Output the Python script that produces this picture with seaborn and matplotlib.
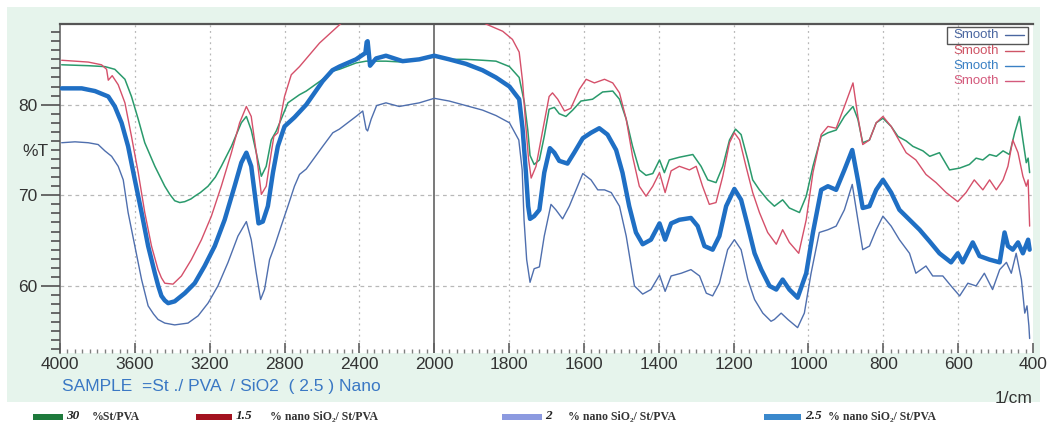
import numpy as np
import matplotlib
matplotlib.use("Agg")
import matplotlib.pyplot as plt
from matplotlib.lines import Line2D
from matplotlib.patches import Rectangle
from matplotlib.ticker import FixedLocator
import seaborn as sns

# ---- FTIR spectra: wavenumber (1/cm) and transmittance (%T) ----
wn_st_pva = [3991, 3849, 3760, 3707, 3653, 3618, 3582, 3547, 3493, 3440, 3413, 3387, 3360, 3333, 3300,
             3280, 3250, 3209, 3170, 3138, 3084, 3031, 3004, 2978, 2951, 2924, 2898, 2871, 2844, 2782,
             2720, 2684, 2596, 2544, 2507, 2418, 2364, 2347, 2258, 2169, 2080, 2000, 1960, 1915, 1871,
             1835, 1799, 1773, 1759, 1750, 1744, 1733, 1719, 1706, 1693, 1679, 1666, 1648, 1630, 1608,
             1577, 1550, 1523, 1505, 1487, 1470, 1452, 1434, 1416, 1398, 1385, 1372, 1345, 1309, 1287,
             1269, 1247, 1229, 1211, 1195, 1180, 1162, 1149, 1131, 1109, 1091, 1069, 1051, 1024, 1006,
             988, 966, 948, 926, 904, 881, 868, 855, 837, 819, 801, 779, 761, 739, 721,
             694, 676, 650, 623, 596, 570, 552, 534, 516, 498, 480, 463, 449, 436, 427,
             418, 413, 409]
t_st_pva = [84.4, 84.3, 84.2, 83.9, 82.8, 80.9, 78.4, 75.8, 73.2, 71.0, 70.1, 69.4, 69.2, 69.3, 69.6,
            69.9, 70.3, 71.0, 72.0, 73.2, 75.4, 78.0, 78.7, 77.2, 74.7, 72.1, 73.2, 76.1, 77.1, 80.2,
            81.1, 81.5, 82.8, 83.7, 83.9, 84.6, 84.8, 84.8, 84.8, 84.7, 85.0, 85.3, 85.0, 85.0, 84.9,
            84.8, 84.2, 83.0, 80.2, 77.2, 74.4, 73.4, 73.9, 76.5, 79.5, 79.7, 79.0, 78.7, 79.4, 80.4,
            80.6, 81.4, 81.5, 80.6, 78.4, 75.4, 72.8, 72.2, 72.4, 73.9, 72.5, 73.9, 74.2, 74.5, 73.2,
            71.7, 71.4, 73.2, 76.1, 77.3, 76.7, 73.9, 71.7, 70.6, 69.5, 68.8, 69.5, 68.6, 68.1, 69.9,
            73.2, 76.5, 76.9, 77.2, 78.7, 79.8, 78.4, 75.8, 76.1, 78.0, 78.5, 77.6, 76.5, 76.0, 75.4,
            74.9, 74.3, 74.7, 72.8, 73.0, 73.4, 74.1, 73.9, 74.5, 74.3, 74.9, 74.5, 76.9, 78.7, 76.1,
            73.6, 74.1, 72.5]

wn_sio2_15 = [3991, 3849, 3778, 3751, 3742, 3721, 3689, 3653, 3618, 3582, 3547, 3511, 3476, 3458, 3440,
              3396, 3351, 3298, 3244, 3191, 3138, 3084, 3040, 3004, 2978, 2951, 2924, 2898, 2871, 2857,
              2836, 2800, 2764, 2720, 2613, 2507, 2450, 2350, 2200, 2000, 1900, 1862, 1817, 1791, 1773,
              1764, 1755, 1748, 1741, 1728, 1710, 1693, 1684, 1670, 1652, 1635, 1612, 1594, 1572, 1545,
              1523, 1505, 1487, 1470, 1452, 1434, 1416, 1398, 1383, 1367, 1345, 1318, 1300, 1283, 1265,
              1247, 1229, 1211, 1198, 1184, 1167, 1149, 1131, 1109, 1086, 1069, 1051, 1026, 1006, 988,
              966, 948, 926, 904, 881, 868, 855, 837, 819, 801, 779, 757, 739, 713, 686,
              659, 632, 601, 579, 557, 534, 516, 498, 480, 467, 454, 440, 427, 418, 413,
              409]
t_sio2_15 = [84.9, 84.7, 84.4, 83.9, 82.7, 83.2, 82.2, 80.2, 76.5, 72.5, 68.1, 64.4, 61.8, 60.9, 60.3,
             60.2, 61.1, 62.9, 65.1, 67.7, 71.0, 74.7, 78.0, 79.8, 78.7, 74.7, 70.1, 71.0, 74.7, 76.5,
             76.9, 80.9, 83.3, 84.2, 86.8, 88.8, 89.8, 90.6, 91.0, 91.0, 89.8, 88.9, 88.1, 87.2, 85.8,
             82.6, 77.5, 74.0, 71.9, 73.2, 77.2, 80.9, 81.3, 80.6, 79.3, 79.6, 81.7, 82.8, 82.4, 82.8,
             82.4, 81.3, 78.4, 74.3, 71.0, 69.9, 71.0, 72.5, 70.3, 72.7, 73.2, 72.8, 73.2, 71.0, 69.0,
             69.2, 72.1, 75.8, 76.9, 76.1, 73.2, 70.3, 68.1, 65.9, 64.6, 66.2, 64.8, 63.6, 67.3, 72.5,
             76.7, 77.6, 77.4, 79.8, 82.4, 78.7, 75.6, 76.1, 78.0, 78.7, 77.6, 76.0, 74.7, 73.9, 72.3,
             71.4, 70.3, 69.3, 70.3, 71.7, 70.6, 71.7, 70.6, 71.7, 73.2, 76.1, 74.7, 72.1, 71.0, 71.7,
             66.6]

wn_sio2_2 = [3991, 3920, 3849, 3796, 3760, 3724, 3689, 3662, 3636, 3600, 3564, 3529, 3500, 3476, 3440,
             3387, 3316, 3262, 3209, 3156, 3102, 3049, 3004, 2978, 2951, 2928, 2907, 2880, 2853, 2818,
             2782, 2747, 2720, 2684, 2596, 2542, 2507, 2418, 2382, 2364, 2356, 2337, 2308, 2258, 2187,
             2080, 2000, 1960, 1915, 1871, 1835, 1799, 1774, 1765, 1760, 1753, 1744, 1733, 1719, 1706,
             1688, 1675, 1657, 1639, 1621, 1603, 1581, 1563, 1545, 1527, 1505, 1487, 1465, 1443, 1421,
             1398, 1383, 1367, 1340, 1314, 1291, 1273, 1256, 1238, 1216, 1198, 1180, 1162, 1144, 1122,
             1100, 1091, 1073, 1055, 1029, 1011, 993, 971, 948, 926, 904, 883, 868, 855, 837,
             819, 801, 779, 757, 730, 713, 686, 668, 641, 619, 596, 574, 552, 530, 508,
             489, 471, 458, 445, 431, 422, 416, 411, 409]
t_sio2_2 = [75.8, 75.9, 75.8, 75.6, 74.9, 74.3, 73.2, 71.7, 68.1, 64.4, 60.7, 57.8, 56.9, 56.3, 55.9,
            55.7, 55.9, 56.7, 58.1, 60.0, 62.6, 65.5, 67.1, 65.1, 61.4, 58.5, 59.6, 62.9, 64.4, 66.6,
            68.8, 71.0, 72.3, 72.9, 75.4, 76.9, 77.3, 78.7, 79.3, 77.3, 77.1, 78.4, 79.9, 80.2, 79.8,
            80.2, 80.7, 80.4, 79.9, 79.4, 78.8, 78.0, 76.1, 72.8, 67.3, 62.9, 60.4, 61.9, 62.1, 65.5,
            69.0, 68.4, 67.4, 68.8, 70.6, 72.4, 71.7, 70.6, 70.6, 70.3, 68.8, 65.5, 60.0, 59.1, 59.6,
            61.2, 59.4, 61.1, 61.4, 61.8, 61.1, 59.2, 58.9, 60.3, 64.0, 65.1, 64.0, 60.7, 58.5, 57.0,
            56.1, 56.3, 57.0, 56.3, 55.4, 57.0, 61.4, 65.9, 66.2, 66.6, 68.4, 71.2, 67.3, 64.0, 64.4,
            66.2, 67.7, 66.6, 65.1, 63.6, 61.4, 62.2, 61.1, 61.1, 60.0, 58.9, 60.3, 60.0, 61.4, 59.6,
            61.8, 62.6, 61.4, 63.6, 60.7, 57.0, 57.8, 55.6, 54.2]

wn_sio2_25 = [3991, 3884, 3813, 3742, 3707, 3671, 3636, 3600, 3564, 3529, 3493, 3475, 3458, 3440, 3422,
              3387, 3333, 3280, 3227, 3173, 3120, 3067, 3031, 3004, 2978, 2960, 2939, 2916, 2889, 2862,
              2836, 2800, 2747, 2702, 2684, 2596, 2544, 2507, 2418, 2382, 2368, 2361, 2356, 2352, 2343,
              2311, 2258, 2169, 2080, 2000, 1960, 1915, 1871, 1835, 1799, 1773, 1764, 1755, 1749, 1744,
              1733, 1719, 1706, 1691, 1679, 1666, 1644, 1626, 1603, 1581, 1559, 1537, 1514, 1497, 1479,
              1461, 1443, 1421, 1398, 1383, 1367, 1345, 1314, 1296, 1278, 1256, 1238, 1220, 1198, 1180,
              1162, 1144, 1126, 1104, 1086, 1069, 1051, 1029, 1006, 988, 966, 948, 926, 904, 883,
              868, 855, 837, 819, 801, 779, 757, 730, 703, 676, 650, 619, 601, 588, 561,
              543, 516, 489, 476, 467, 454, 440, 427, 413, 409]
t_sio2_25 = [81.8, 81.8, 81.5, 80.9, 79.8, 78.0, 75.4, 71.7, 68.1, 64.4, 61.4, 60.0, 58.9, 58.4, 58.1,
             58.3, 59.2, 60.3, 62.2, 64.4, 67.3, 71.0, 73.6, 74.7, 73.2, 70.3, 66.9, 67.1, 68.8, 72.5,
             75.4, 77.6, 78.6, 79.6, 80.0, 82.6, 83.8, 84.2, 85.0, 85.5, 85.7, 86.9, 87.0, 86.2, 84.3,
             85.1, 85.4, 84.8, 85.0, 85.4, 85.0, 84.5, 83.8, 83.0, 82.0, 80.6, 77.4, 72.5, 68.8, 67.4,
             67.7, 68.4, 72.5, 75.2, 74.7, 73.8, 73.5, 74.7, 76.3, 76.9, 77.4, 76.7, 75.0, 72.5, 68.8,
             65.9, 64.6, 65.1, 66.9, 65.1, 66.9, 67.3, 67.5, 66.6, 64.4, 64.0, 65.5, 68.8, 70.7, 69.5,
             66.6, 63.6, 61.8, 60.0, 59.6, 60.7, 59.6, 58.7, 61.4, 65.9, 70.6, 71.0, 70.6, 72.8, 75.0,
             71.7, 68.6, 68.8, 70.6, 71.7, 70.3, 68.4, 67.3, 66.2, 64.9, 63.6, 62.6, 63.6, 62.6, 64.8,
             63.3, 62.9, 62.6, 65.9, 64.4, 64.0, 64.8, 63.6, 65.1, 64.0]

x_ticks = [4000, 3600, 3200, 2800, 2400, 2000, 1800, 1600, 1400, 1200, 1000, 800, 600, 400]
y_ticks = [60, 70, 80]

legend_numbers = ["30", "1.5", "2", "2.5"]
legend_texts = ["%St/PVA", "% nano SiO\u2082/ St/PVA", "% nano SiO\u2082/ St/PVA", "% nano SiO\u2082/ St/PVA"]
smooth_labels = ["Smooth", "Smooth", "Smooth", "Smooth"]

# ---- styling ----
sns.set_style("ticks")
plt.rcParams["font.family"] = ["Liberation Sans", "DejaVu Sans"]

W, H = 1048, 436
fig = plt.figure(figsize=(W / 100, H / 100), dpi=100)
fig.patch.set_facecolor("white")


def fx(px):
    return px / W


def fy(py):
    return 1 - py / H


# pale panel behind the plot area
fig.patches.append(Rectangle((fx(7), fy(402)), (1040 - 7) / W, (402 - 7) / H,
                             transform=fig.transFigure, facecolor="#e6f4ec",
                             edgecolor="none", zorder=-5, figure=fig))

ax = fig.add_axes([fx(60), fy(353), (1033 - 60) / W, (353 - 24) / H])
ax.set_facecolor("white")
ax.set_axisbelow(False)


# wavenumber axis: 2x expanded below 2000 1/cm
def fwd(x):
    x = np.asarray(x, dtype=float)
    return np.where(x >= 2000, x, 2 * x - 2000)


def inv(u):
    u = np.asarray(u, dtype=float)
    return np.where(u >= 2000, u, (u + 2000) / 2)


series = [
    (wn_sio2_2, t_sio2_2, "#4f6fae", 1.0),
    (wn_st_pva, t_st_pva, "#2a9a6c", 1.1),
    (wn_sio2_15, t_sio2_15, "#d5506a", 1.0),
    (wn_sio2_25, t_sio2_25, "#1f6fc4", 3.2),
]
for wn, t, col, lw in series:
    sns.lineplot(x=wn, y=t, ax=ax, color=col, linewidth=lw, sort=False,
                 estimator=None, zorder=3, solid_joinstyle="round",
                 solid_capstyle="round")

ax.set_xscale("function", functions=(fwd, inv))
ax.set_xlim(4000, 400)
ax.set_ylim(52.6, 88.9)

# grid
for v in x_ticks[1:-1]:
    if v == 2000:
        ax.axvline(v, color="#6e6e6e", lw=1.3, zorder=2)
    else:
        ax.axvline(v, color="#b8b8b8", lw=0.9, ls=(0, (1.5, 3)), zorder=1)
for v in y_ticks:
    ax.axhline(v, color="#b8b8b8", lw=0.9, ls=(0, (3, 3)), zorder=1)

ax.xaxis.set_major_locator(FixedLocator(x_ticks))
ax.set_xticklabels([str(v) for v in x_ticks])
minor_x = list(range(4000, 2000, -40)) + list(range(2000, 399, -20))
ax.xaxis.set_minor_locator(FixedLocator(minor_x))
ax.tick_params(axis="x", which="both", bottom=True, top=False)
ax.tick_params(axis="x", which="major", direction="in", length=7, width=1.2,
               color="#606060", labelsize=12.5, labelcolor="#333333", pad=3)
ax.tick_params(axis="x", which="minor", direction="in", length=3, width=1.0,
               color="#808080")

ax.yaxis.set_major_locator(FixedLocator(y_ticks))
ax.set_yticklabels([str(v) for v in y_ticks])
ax.yaxis.set_minor_locator(FixedLocator(list(range(53, 89))))
ax.tick_params(axis="y", which="both", left=True, right=False)
ax.tick_params(axis="y", which="major", direction="out", length=14, width=1.2,
               color="#505050", labelsize=12.5, labelcolor="#333333", pad=2)
ax.tick_params(axis="y", which="minor", direction="out", length=6.5, width=1.2,
               color="#505050")
ax.set_xlabel("")
ax.set_ylabel("")

for side in ("bottom", "right"):
    ax.spines[side].set_visible(False)
ax.spines["left"].set_color("#666666")
ax.spines["left"].set_linewidth(1.2)
ax.spines["top"].set_color("#555555")
ax.spines["top"].set_linewidth(1.6)

# axis captions
fig.text(fx(35), fy(152), "%T", ha="center", va="center", fontsize=12.5, color="#333333")
fig.text(fx(1014), fy(398), "1/cm", ha="center", va="center", fontsize=12.5, color="#333333")
fig.text(fx(62), fy(386), "SAMPLE  =St ./ PVA  / SiO2  ( 2.5 ) Nano", ha="left",
         va="center", fontsize=12.5, color="#3a78c4")

# "Smooth" key in the upper right corner
smooth_colors = ["#4a66a0", "#cf5566", "#3a80c4", "#d45a7c"]
smooth_y = [35, 51, 66, 81]
for lab, col, yy in zip(smooth_labels, smooth_colors, smooth_y):
    fig.text(fx(953), fy(yy), lab, ha="left", va="center", fontsize=9.5, color=col)
    fig.add_artist(Line2D([fx(1005), fx(1024)], [fy(yy), fy(yy)],
                          transform=fig.transFigure, color=col, lw=1.0))
fig.add_artist(Rectangle((fx(947), fy(44)), 81 / W, 17 / H, transform=fig.transFigure,
                         facecolor="none", edgecolor="#555555", lw=1.0))

# sample key along the bottom
key_colors = ["#1e7a3c", "#a3121f", "#8c9ae0", "#3a88cc"]
key_rect = [(33, 30), (196, 36), (502, 40), (764, 37)]
key_num_x = [66, 236, 545, 805]
key_txt_x = [92, 270, 568, 828]
for col, (x0, w), nx, tx, num, txt in zip(key_colors, key_rect, key_num_x, key_txt_x,
                                          legend_numbers, legend_texts):
    fig.add_artist(Rectangle((fx(x0), fy(420)), w / W, 6 / H, transform=fig.transFigure,
                             facecolor=col, edgecolor="none"))
    fig.text(fx(nx), fy(416), num, ha="left", va="center", fontsize=9.5,
             fontstyle="italic", fontweight="bold", color="#222222",
             family=["Liberation Serif", "DejaVu Serif"])
    fig.text(fx(tx), fy(417), txt, ha="left", va="center", fontsize=8.5,
             fontweight="bold", color="#333333",
             family=["Liberation Serif", "DejaVu Serif"])

fig.savefig("out.png", dpi=100, facecolor="white")
